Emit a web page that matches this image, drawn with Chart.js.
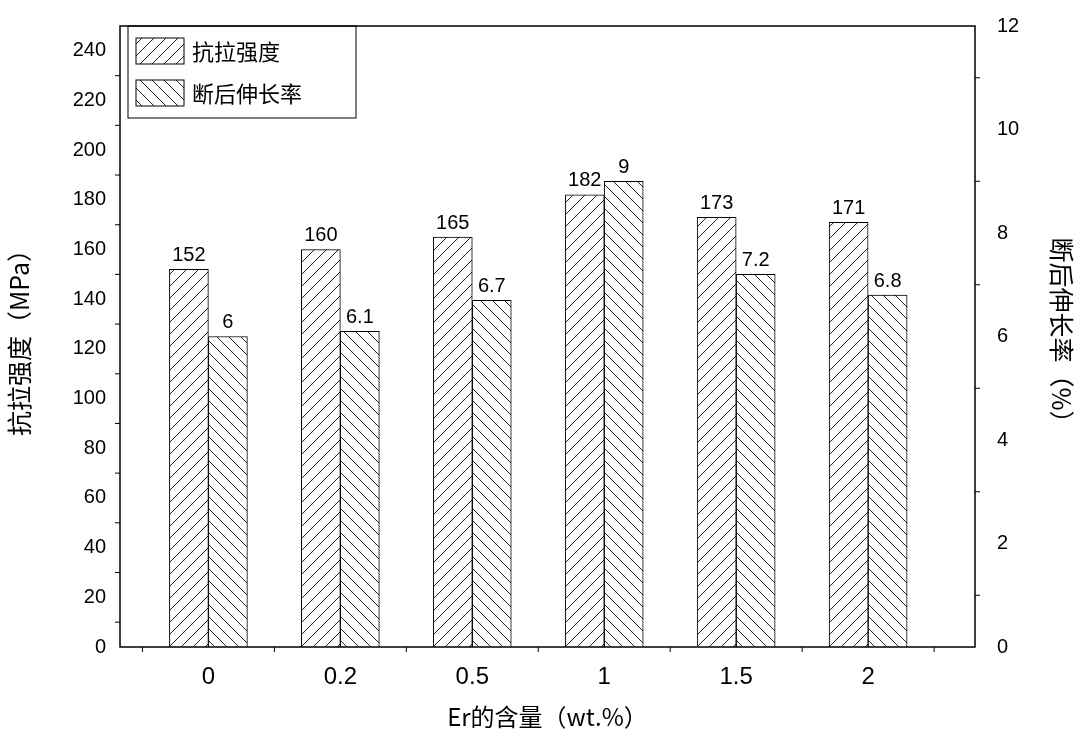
<!DOCTYPE html>
<html><head><meta charset="utf-8">
<script src="https://cdn.jsdelivr.net/npm/chart.js@4"></script>
<style>body{margin:0;background:#fff}</style>
</head><body>
<canvas id="c" width="1080" height="735" style="width:1080px;height:735px"></canvas>
<script>
// Data
const categories = ["0", "0.2", "0.5", "1", "1.5", "2"];
const strength = [152, 160, 165, 182, 173, 171];
const elongation = [6, 6.1, 6.7, 9, 7.2, 6.8];
const seriesNames = ["抗拉强度", "断后伸长率"];

const FONT = "'Liberation Sans', Arial, 'Noto Sans CJK SC', sans-serif";

// Build a hatch pattern ("/" or "\")
function hatch(dir)
{
    const s = 12;
    const p = document.createElement("canvas");
    p.width = s; p.height = s;
    const g = p.getContext("2d");
    g.fillStyle = "#fff";
    g.fillRect(0, 0, s, s);
    g.strokeStyle = "#222";
    g.lineWidth = 1;
    g.beginPath();
    for (let k = -1; k <= 1; k++)
    {
        if (dir > 0) { g.moveTo(k * s, s); g.lineTo(k * s + s, 0); }
        else { g.moveTo(k * s, 0); g.lineTo(k * s + s, s); }
    }
    g.stroke();
    return g.createPattern(p, "repeat");
}
const ctx0 = document.getElementById("c").getContext("2d");
const patA = hatch(1), patB = hatch(-1);

// Frame, minor ticks, value labels, legend
const decor = {
    id: "decor",
    afterDatasetsDraw(chart)
    {
        const c = chart.ctx, a = chart.chartArea;
        const y = chart.scales.y, y1 = chart.scales.y1, x = chart.scales.x;
        c.save();
        c.strokeStyle = "#000"; c.lineWidth = 1.5;
        c.strokeRect(a.left, a.top, a.right - a.left, a.bottom - a.top);
        c.lineWidth = 1;
        c.beginPath();
        for (let v = 10; v < 250; v += 20) { const py = y.getPixelForValue(v); c.moveTo(a.left, py); c.lineTo(a.left - 5, py); }
        for (let v = 1; v < 12; v += 2) { const py = y1.getPixelForValue(v); c.moveTo(a.right, py); c.lineTo(a.right + 5, py); }
        for (let i = 0; i <= categories.length; i++) { const px = x.getPixelForValue(i - 0.5); if (px > a.left && px < a.right) { c.moveTo(px, a.bottom); c.lineTo(px, a.bottom + 5); } }
        c.stroke();
        // value labels
        c.fillStyle = "#000"; c.font = "20px " + FONT; c.textAlign = "center"; c.textBaseline = "bottom";
        chart.data.datasets.forEach((ds, di) => {
            chart.getDatasetMeta(di).data.forEach((bar, i) => {
                c.fillText(String(di === 0 ? strength[i] : elongation[i]), bar.x, bar.y - 4);
            });
        });
        // legend
        c.lineWidth = 1; c.strokeStyle = "#000";
        c.strokeRect(a.left + 8, a.top, 228, 92);
        [patA, patB].forEach((pat, i) => {
            const ly = a.top + 12 + i * 42;
            c.fillStyle = pat;
            c.fillRect(a.left + 16, ly, 48, 26);
            c.strokeRect(a.left + 16, ly, 48, 26);
            c.fillStyle = "#000"; c.textAlign = "left"; c.textBaseline = "middle";
            c.font = "22px 'Noto Sans CJK SC', sans-serif";
            c.fillText(seriesNames[i], a.left + 72, ly + 14);
        });
        c.restore();
    }
};

new Chart(ctx0, {
    type: "bar",
    data: {
        datasets: [
            { label: seriesNames[0], data: strength.map((v, i) => ({ x: i, y: v })), yAxisID: "y", backgroundColor: patA, borderColor: "#000", borderWidth: 1 },
            { label: seriesNames[1], data: elongation.map((v, i) => ({ x: i, y: v })), yAxisID: "y1", backgroundColor: patB, borderColor: "#000", borderWidth: 1 }
        ]
    },
    options: {
        responsive: false,
        animation: false,
        layout: { padding: { top: 10 } },
        datasets: { bar: { barThickness: 39, categoryPercentage: 0.6, barPercentage: 1 } },
        plugins: { legend: { display: false }, tooltip: { enabled: false } },
        scales: {
            x: {
                type: "linear", min: -0.67, max: 5.81, offset: false, bounds: "ticks",
                afterBuildTicks(s) { s.ticks = categories.map((_, i) => ({ value: i })); },
                afterDataLimits(s) { s.min = -0.67; s.max = 5.81; },
                afterFit(s) { s.height = 88; },
                grid: { display: false, drawTicks: true },
                border: { display: false },
                ticks: { color: "#000", font: { size: 24, family: FONT }, padding: 8, callback: (v) => categories[v] },
                title: { display: true, text: "Er的含量（wt.%）", color: "#000", font: { size: 24, family: "'Noto Sans CJK SC', sans-serif" }, padding: { top: 0 } }
            },
            y: {
                position: "left", min: 0, max: 250,
                afterBuildTicks(s) { s.ticks = []; for (let v = 0; v <= 240; v += 20) s.ticks.push({ value: v }); },
                afterFit(s) { s.width = 120; },
                grid: { display: false },
                border: { display: false },
                ticks: { color: "#000", font: { size: 20, family: FONT }, padding: 6 },
                title: { display: true, text: "抗拉强度（MPa）", color: "#000", font: { size: 25, family: "'Noto Sans CJK SC', sans-serif" } }
            },
            y1: {
                position: "right", min: 0, max: 12,
                afterBuildTicks(s) { s.ticks = []; for (let v = 0; v <= 12; v += 2) s.ticks.push({ value: v }); },
                afterFit(s) { s.width = 105; },
                grid: { display: false },
                border: { display: false },
                ticks: { color: "#000", font: { size: 20, family: FONT }, padding: 14 },
                title: { display: true, text: "断后伸长率（%）", color: "#000", font: { size: 25, family: "'Noto Sans CJK SC', sans-serif" } }
            }
        }
    },
    plugins: [decor]
});
</script>
</body></html>
